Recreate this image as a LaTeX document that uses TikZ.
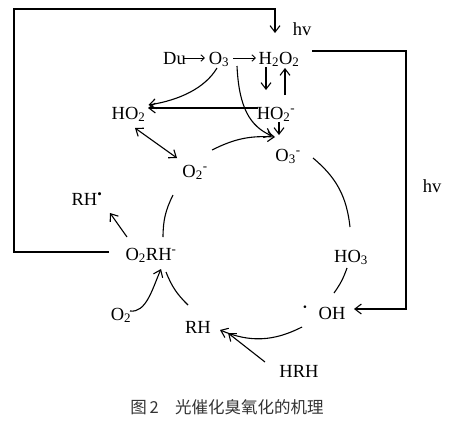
\documentclass[tikz,border=0pt]{standalone}
\usepackage{fontspec}
\setmainfont{Liberation Serif}
\newfontfamily\cjk{Noto Sans CJK SC}
\usetikzlibrary{arrows.meta}
\begin{document}
\begin{tikzpicture}[x=1pt,y=-1pt,
  lbl/.style={inner sep=0pt, anchor=base, font=\fontsize{18.5}{20}\selectfont},
  tip/.style={Straight Barb[length=6.5pt,width=10pt,line width=1.1pt]},
  arr/.style={line width=1.1pt, -{Straight Barb[length=6.5pt,width=10pt,line width=1.1pt]}},
  darr/.style={line width=1.1pt, {Straight Barb[length=6.5pt,width=10pt,line width=1.1pt]}-{Straight Barb[length=6.5pt,width=10pt,line width=1.1pt]}},
  sarr/.style={line width=0.9pt, -{Straight Barb[length=3.5pt,width=6.5pt,line width=0.9pt]}},
  ln/.style={line width=1.1pt},
  loopln/.style={line width=2pt},
]
\useasboundingbox (0,0) rectangle (468,421);

% labels
\node[lbl] (hvtop) at (302,35) {hv};
\node[lbl] (du) at (174.5,64) {Du};
\node[lbl] (o3) at (219,64) {O\textsubscript{3}};
\node[lbl] (h2o2) at (279,64) {H\textsubscript{2}O\textsubscript{2}};
\node[lbl] (ho2) at (128.5,119) {HO\textsubscript{2}};
\node[lbl] (ho2m) at (276,119) {HO\textsubscript{2}\textsuperscript{-}};
\node[lbl] (o3m) at (288,161) {O\textsubscript{3}\textsuperscript{-}};
\node[lbl] (o2m) at (195,177) {O\textsubscript{2}\textsuperscript{-}};
\node[lbl] (rhd) at (87,205) {RH\textsuperscript{\textbullet}};
\node[lbl] (o2rh) at (151,260) {O\textsubscript{2}RH\textsuperscript{-}};
\node[lbl] (ho3) at (351,262) {HO\textsubscript{3}};
\node[lbl] (oh) at (332,319) {OH};
\node[inner sep=0pt, anchor=base, font=\fontsize{22}{24}\selectfont] (ohdot) at (305,314) {·};
\node[lbl] (o2) at (121,320) {O\textsubscript{2}};
\node[lbl] (rh) at (198,333) {RH};
\node[lbl] (hrh) at (299,377) {HRH};
\node[lbl] (hvr) at (432,192) {hv};
\node[inner sep=0pt, anchor=base, font=\cjk\fontsize{16.5}{18}\selectfont, text=black!80] (cap) at (227,413) {图\,2\hspace{1em}光催化臭氧化的机理};

% top row arrows
\draw[sarr] ([shift={(9.5,-6)}]du.base) -- ([shift={(-14,-6)}]o3.base);
\draw[sarr] ([shift={(14,-6)}]o3.base) -- ([shift={(-23,-6)}]h2o2.base);

% light loops
\draw[line width=1.6pt] ([shift={(-42,-8)}]o2rh.base) -- (14,252) -- (14,9) -- (275,9);
\draw[arr] (275,8.2) -- ([shift={(-4,-31)}]h2o2.base);
\draw[loopln] ([shift={(33,-13)}]h2o2.base) -- (406,51) -- (406,309);
\draw[arr, line width=1.6pt] (407,309) -- ([shift={(22,-10)}]oh.base);

% upper part
\draw[arr] ([shift={(-2,4)}]o3.base) .. controls (205,88) and (180,100) .. ([shift={(20,-14)}]ho2.base);
\draw[arr] ([shift={(-18,-11)}]ho2m.base) -- ([shift={(19.5,-11)}]ho2.base);
\draw[arr] ([shift={(-13,3)}]h2o2.base) -- ([shift={(-10,-29)}]ho2m.base);
\draw[arr] ([shift={(9,-24)}]ho2m.base) -- ([shift={(6,4)}]h2o2.base);
\draw[arr] ([shift={(3,3)}]ho2m.base) -- ([shift={(-9,-26)}]o3m.base);
\draw[arr] ([shift={(18,2)}]o3.base) .. controls (239,108) and (250,126) .. ([shift={(-16,-25)}]o3m.base);
\draw[darr] ([shift={(6.5,9)}]ho2.base) -- ([shift={(-18,-19)}]o2m.base);

% cycle
\draw[arr] ([shift={(17,-27)}]o2m.base) to[bend left=15] ([shift={(-13,-24)}]o3m.base);
\draw[ln] ([shift={(12,-23)}]o2rh.base) to[bend left=13] ([shift={(-22,18)}]o2m.base);
\draw[ln] ([shift={(25,-3)}]o3m.base) to[bend left=22] ([shift={(-1,-35)}]ho3.base);
\draw[ln] ([shift={(-4,6)}]ho3.base) to[bend left=8] ([shift={(2,-26)}]oh.base);
\draw[arr] ([shift={(-30,8)}]oh.base) to[bend left=25] ([shift={(22,-3)}]rh.base);
\draw[ln] ([shift={(-10,-28)}]rh.base) to[bend left=12] ([shift={(15,12)}]o2rh.base);
\draw[arr] ([shift={(9,-9)}]o2.base) .. controls (146,313) and (152,290) .. ([shift={(10,9)}]o2rh.base);
\draw[arr] ([shift={(-24,-23)}]o2rh.base) -- ([shift={(23,8)}]rhd.base);
\draw[arr] ([shift={(-34,-15)}]hrh.base) -- ([shift={(30,0)}]rh.base);
\end{tikzpicture}
\end{document}
